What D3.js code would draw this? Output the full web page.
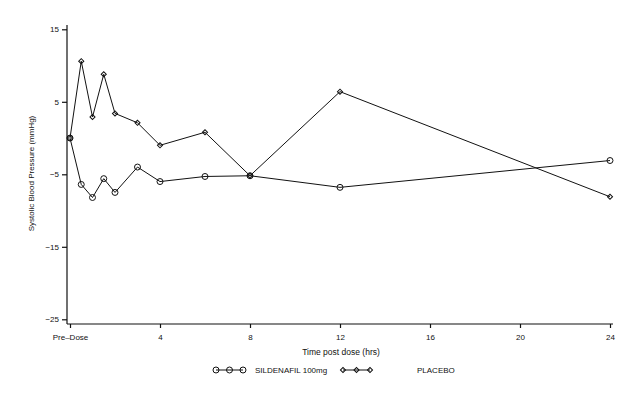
<!DOCTYPE html>
<html>
<head>
<meta charset="utf-8">
<script src="https://cdn.jsdelivr.net/npm/d3@7"></script>
<style>
    body { margin: 0; background: #ffffff; }
    svg { font-family: "Liberation Sans", Arial, sans-serif; }
</style>
</head>
<body>
<div id="chart"></div>
<script>

// time points (hours post dose)
let hours = [0, 0.5, 1, 1.5, 2, 3, 4, 6, 8, 12, 24];

// change in systolic blood pressure (mmHg)
let sildenafil = [0, -6.4, -8.2, -5.6, -7.5, -4.0, -6.0, -5.3, -5.2, -6.8, -3.1];
let placebo = [0, 10.6, 2.9, 8.8, 3.4, 2.1, -1.0, 0.8, -5.2, 6.4, -8.1];

// axis ticks
let xTicks = [0, 4, 8, 12, 16, 20, 24];
let yTicks = [15, 5, -5, -15, -25];

let seriesNames = ["SILDENAFIL 100mg", "PLACEBO"];


window.onload = function() {
    main();
};


function main() {
    let w = 642;
    let h = 396;

    let svg = d3.select("#chart")
                .append("svg")
                .attr("width", w)
                .attr("height", h);

    // scales, pixel range
    let xScale = d3.scaleLinear()
                   .domain([0, 24])
                   .range([70, 610]);

    let yScale = d3.scaleLinear()
                   .domain([-25, 15])
                   .range([319.3, 29.3]);

    let ink = "#111";

    // y axis
    let yAxis = d3.axisLeft(yScale)
                  .tickValues(yTicks)
                  .tickSize(5)
                  .tickPadding(3)
                  .tickFormat(function(d) {
                      return d < 0 ? "\u2212" + Math.abs(d) : d;
                  });

    let gy = svg.append("g")
                .attr("transform", "translate(67,0)")
                .call(yAxis);
    gy.select(".domain")
      .attr("d", "M0,25V324");

    // x axis
    let xAxis = d3.axisBottom(xScale)
                  .tickValues(xTicks)
                  .tickSize(4)
                  .tickPadding(6)
                  .tickFormat(function(d) {
                      return d == 0 ? "Pre\u2013Dose" : d;
                  });

    let gx = svg.append("g")
                .attr("transform", "translate(0,324)")
                .call(xAxis);
    gx.select(".domain")
      .attr("d", "M67,0H613");

    svg.selectAll(".tick text")
       .attr("font-size", "8px")
       .attr("fill", ink);
    svg.selectAll(".domain, .tick line")
       .attr("stroke", ink)
       .attr("stroke-width", 1.2);

    // axis titles
    svg.append("text")
       .attr("x", 341)
       .attr("y", 355)
       .attr("text-anchor", "middle")
       .attr("font-size", "8.5px")
       .attr("fill", ink)
       .text("Time post dose (hrs)");

    svg.append("text")
       .attr("transform", "translate(34,173.5) rotate(-90)")
       .attr("text-anchor", "middle")
       .attr("font-size", "8px")
       .attr("fill", ink)
       .text("Systolic Blood Pressure (mmHg)");

    // lines
    let line = d3.line()
                 .x(function(d) { return xScale(d[0]); })
                 .y(function(d) { return yScale(d[1]); });

    let series = [d3.zip(hours, sildenafil), d3.zip(hours, placebo)];

    // circle for sildenafil, square turned 45 degrees for placebo
    let symbols = [d3.symbol().type(d3.symbolCircle).size(28),
                   d3.symbol().type(d3.symbolSquare).size(13)];
    let turns = [0, 45];

    series.forEach(function(data, i) {
        svg.append("path")
           .datum(data)
           .attr("d", line)
           .attr("fill", "none")
           .attr("stroke", ink)
           .attr("stroke-width", 1);

        svg.append("g")
           .selectAll("path")
           .data(data)
           .enter()
           .append("path")
           .attr("transform", function(d) {
               return "translate(" + xScale(d[0]) + "," + yScale(d[1]) + ")" +
                      " rotate(" + turns[i] + ")";
           })
           .attr("d", symbols[i])
           .attr("fill", "none")
           .attr("stroke", ink)
           .attr("stroke-width", 1);
    });

    // legend
    let legendY = 370;
    let legendX = [216, 343];
    let textX = [255, 417];

    seriesNames.forEach(function(name, i) {
        let g = svg.append("g");
        let x0 = legendX[i];
        let step = 13.5;

        g.append("line")
         .attr("x1", x0)
         .attr("x2", x0 + 2 * step)
         .attr("y1", legendY)
         .attr("y2", legendY)
         .attr("stroke", ink)
         .attr("stroke-width", 1);

        g.selectAll("path")
         .data([0, 1, 2])
         .enter()
         .append("path")
         .attr("transform", function(d) {
             return "translate(" + (x0 + d * step) + "," + legendY + ")" +
                    " rotate(" + turns[i] + ")";
         })
         .attr("d", symbols[i])
         .attr("fill", "none")
         .attr("stroke", ink)
         .attr("stroke-width", 1);

        g.append("text")
         .attr("x", textX[i])
         .attr("y", legendY)
         .attr("dy", "0.35em")
         .attr("font-size", "8px")
         .attr("fill", ink)
         .text(name);
    });
}
</script>
</body>
</html>
